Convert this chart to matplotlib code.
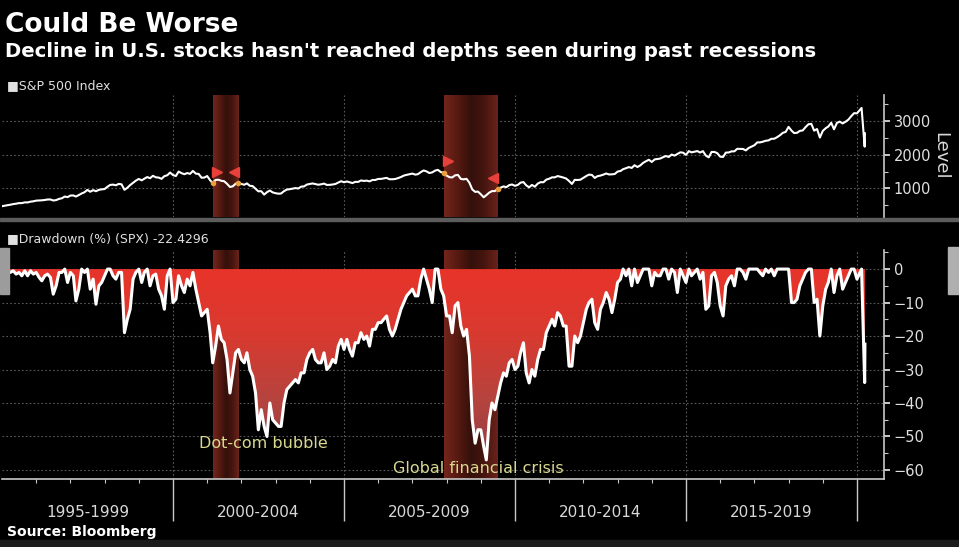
import numpy as np
import pandas as pd
import matplotlib
matplotlib.use('Agg')
import matplotlib.pyplot as plt
from matplotlib.colors import LinearSegmentedColormap
from matplotlib.patches import Polygon, Rectangle
from matplotlib.transforms import offset_copy, blended_transform_factory

# S&P 500 monthly level, Jan 1995 .. Jan 2020
spx_level = [
    470, 487, 500, 515, 533, 545, 562, 562, 584, 582, 605, 615,
    636, 640, 645, 654, 669, 670, 640, 651, 687, 705, 757, 740,
    786, 790, 757, 801, 848, 885, 954, 899, 947, 914, 955, 970,
    980, 1049, 1101, 1111, 1090, 1133, 1120, 957, 1017, 1098, 1163, 1229,
    1279, 1238, 1286, 1335, 1301, 1372, 1328, 1320, 1282, 1362, 1388, 1469,
    1394, 1366, 1498, 1452, 1420, 1454, 1430, 1517, 1436, 1429, 1315, 1320,
    1366, 1240, 1160, 1249, 1255, 1224, 1211, 1134, 1041, 1060, 1139, 1148,
    1130, 1107, 1147, 1076, 1067, 990, 912, 916, 815, 886, 936, 880,
    856, 841, 848, 917, 964, 975, 990, 1008, 996, 1051, 1058, 1112,
    1131, 1145, 1126, 1107, 1121, 1141, 1102, 1104, 1115, 1130, 1174, 1212,
    1181, 1204, 1181, 1157, 1192, 1191, 1234, 1220, 1229, 1207, 1249, 1248,
    1280, 1281, 1295, 1311, 1270, 1270, 1277, 1304, 1336, 1378, 1401, 1418,
    1438, 1407, 1421, 1482, 1531, 1503, 1455, 1474, 1527, 1549, 1481, 1468,
    1379, 1331, 1323, 1386, 1400, 1280, 1267, 1283, 1165, 969, 896, 903,
    826, 735, 798, 873, 919, 919, 987, 1021, 1057, 1036, 1096, 1115,
    1074, 1104, 1169, 1187, 1089, 1031, 1102, 1049, 1141, 1183, 1181, 1258,
    1286, 1327, 1326, 1364, 1345, 1321, 1292, 1219, 1131, 1253, 1247, 1258,
    1312, 1366, 1408, 1398, 1310, 1362, 1379, 1407, 1441, 1412, 1416, 1426,
    1498, 1515, 1569, 1598, 1631, 1606, 1686, 1633, 1682, 1757, 1806, 1848,
    1783, 1859, 1872, 1884, 1924, 1960, 1931, 2003, 1972, 2018, 2068, 2059,
    1995, 2105, 2068, 2086, 2107, 2063, 2104, 1972, 1920, 2079, 2080, 2044,
    1940, 1932, 2060, 2065, 2097, 2099, 2174, 2171, 2168, 2126, 2199, 2239,
    2279, 2364, 2363, 2384, 2412, 2423, 2470, 2472, 2519, 2575, 2648, 2674,
    2824, 2714, 2641, 2648, 2705, 2718, 2816, 2902, 2914, 2712, 2760, 2507,
    2704, 2784, 2834, 2946, 2752, 2942, 2980, 2926, 2977, 3038, 3141, 3231,
    3226,
]

# drawdown from running peak (%), same months, monthly lows
drawdown_pct = [
    -1, -0.5, -0.5, -1, -0.5, -1.5, -1, -2, -0.5, -2, -0.5, -1.5,
    -1, -2.5, -3.5, -2, -1.5, -2.5, -7.5, -5, -1, -1, 0, -4,
    -1, -2, -9.5, -6, 0, -1, 0, -6, -3, -10.5, -5, -4,
    -2, 0, 0, -2, -3, -1, -1, -19, -15, -12, -3, -1,
    0, -4, -1, 0, -5, -2, -1.5, -6, -8, -12, -2, 0,
    -10, -9, -2, -5, -7, -3, -5, -1, -6, -10, -14, -13,
    -12, -19, -28, -23, -17, -21, -22, -27, -37, -31, -25, -24,
    -27, -28, -25, -30, -32, -37, -48, -42, -47, -50, -40, -45,
    -46, -47, -47, -40, -36, -35, -34, -33, -34, -31, -31, -27,
    -25, -24, -27, -28, -28, -25, -30, -29, -27, -28, -23, -21,
    -24, -21, -24, -26, -22, -22, -19, -21, -20, -23, -18, -18,
    -16, -16, -15, -14, -18, -20, -18, -15, -12, -10, -8, -7,
    -6, -8, -8, -3, 0, -3, -6, -10, 0, 0, -6, -8,
    -14, -14, -19, -11, -10, -17, -20, -18, -26, -45, -52, -48,
    -48, -53, -57, -45, -40, -42, -38, -34, -31, -32, -28, -27,
    -30, -29, -25, -22, -31, -34, -30, -32, -27, -24, -24, -19,
    -17, -15, -17, -13, -14, -17, -17, -29, -29, -20, -22, -20,
    -16, -12, -10, -9, -16, -18, -12, -10, -7, -9, -13, -9,
    -4, -3, 0, -2, 0, -5, 0, -4, -2, 0, 0, 0,
    -5, -1, -2, -2, 0, 0, -3, 0, -1, -7, 0, -2,
    -4, 0, -2, -1, 0, -3, -1, -12, -11, -2, -1, -4,
    -11, -14, -5, -3, -2, -5, 0, 0, -1, -3, 0, 0,
    0, 0, -1, -2, 0, -1, 0, -2, 0, 0, 0, 0,
    0, -10, -10, -9, -5, -3, -1, 0, 0, -10, -9, -20,
    -11, -6, -4, 0, -7, -2, 0, -6, -4, -2, 0, 0,
    -3,
]

# last few trading days shown
tail_dates = ['2020-02-19', '2020-03-23', '2020-03-26']
tail_level = [3386, 2237, 2630]
tail_drawdown = [0.0, -33.9, -22.43]

recessions = [('2001-03-01', '2001-11-30'), ('2007-12-01', '2009-06-30')]
period_labels = ['1995-1999', '2000-2004', '2005-2009', '2010-2014', '2015-2019']


def dec_year(d):
    d = pd.DatetimeIndex(d)
    return (d.year + (d.dayofyear - 1) / 365.25).to_numpy()


dates = pd.date_range('1995-01-01', periods=len(spx_level), freq='MS')
dates = dates.append(pd.DatetimeIndex(tail_dates))
x = dec_year(dates)
spx = np.array(spx_level + tail_level, dtype=float)
dd = np.array(drawdown_pct + tail_drawdown, dtype=float)
rec_x = [tuple(dec_year([s, e])) for s, e in recessions]

W, H = 959, 547
fig = plt.figure(figsize=(W / 100, H / 100), dpi=100, facecolor='black')


def box(l, t, r, b):
    return [l / W, 1 - b / H, (r - l) / W, (b - t) / H]


ax1 = fig.add_axes(box(2, 95, 884, 217))
ax2 = fig.add_axes(box(2, 250, 884, 479))
xlim = (1995.0, 2020.79)
lim1 = (150, 3770)
lim2 = (-62.7, 5.7)
tick_c = '#c8c8c8'
grid_c = '#5a5a5a'

rec_cmap = LinearSegmentedColormap.from_list(
    'rec', ['#74251c', '#561a11', '#35100b', '#46150f', '#6a231a'])
grad_h = np.linspace(0, 1, 100).reshape(1, -1)

for ax, lim in ((ax1, lim1), (ax2, lim2)):
    ax.set_facecolor('black')
    for s in ['top', 'left', 'bottom']:
        ax.spines[s].set_visible(False)
    ax.spines['right'].set_color(tick_c)
    ax.spines['right'].set_linewidth(1.2)
    ax.yaxis.tick_right()
    ax.tick_params(axis='y', which='both', colors=tick_c, direction='out',
                   labelsize=10.5, labelcolor='#e0e0e0', pad=3)
    ax.tick_params(axis='y', which='major', length=4, width=1.4)
    ax.tick_params(axis='y', which='minor', length=3, width=0.8)
    for yr in [2000, 2005, 2010, 2015, 2020]:
        ax.axvline(yr, color=grid_c, lw=0.8, ls=(0, (1.5, 2)), zorder=0.2)
    for s, e in rec_x:
        ax.imshow(grad_h, cmap=rec_cmap, extent=[s, e, lim[0], lim[1]],
                  aspect='auto', zorder=0.5, interpolation='bilinear')

# top panel: index level
for v in [1000, 2000, 3000]:
    ax1.axhline(v, color=grid_c, lw=0.8, ls=(0, (1.5, 2)), zorder=0.2)
ax1.plot(x, spx, color='white', lw=1.5, zorder=3)
for s, e in rec_x:
    for xe, mk, dx in ((s, '>', 3), (e, '<', -3)):
        ye = np.interp(xe, x, spx)
        ax1.plot(xe, ye, 'o', color='#e8a040', ms=3, zorder=4)
        tr = offset_copy(ax1.transData, fig=fig, x=dx, y=8, units='points')
        ax1.plot(xe, ye, marker=mk, color='#e8403a', ms=7, transform=tr,
                 zorder=4, linestyle='none')
ax1.set_xlim(*xlim)
ax1.set_ylim(*lim1)
ax1.set_yticks([1000, 2000, 3000])
ax1.set_yticks([500, 1500, 2500, 3500], minor=True)
ax1.set_xticks([])
ax1.yaxis.set_label_position('right')
ax1.set_ylabel('Level', rotation=270, color='#d8d8d8', fontsize=13, labelpad=13)

# bottom panel: drawdown
for v in range(0, -61, -10):
    ax2.axhline(v, color=grid_c, lw=0.8, ls=(0, (1.5, 2)), zorder=0.2)
fill_cmap = LinearSegmentedColormap.from_list(
    'dd', ['#8e3a46', '#b4443f', '#d83a30', '#e8342a'])
grad_v = np.linspace(0, 1, 256).reshape(-1, 1)
im = ax2.imshow(grad_v, cmap=fill_cmap, origin='lower',
                extent=[x[0], x[-1], -60, 0], aspect='auto', zorder=2)
poly = Polygon(np.column_stack([np.r_[x, x[::-1]], np.r_[dd, np.zeros_like(dd)]]),
               closed=True, facecolor='none', edgecolor='none',
               transform=ax2.transData)
ax2.add_patch(poly)
im.set_clip_path(poly)
ax2.plot(x, dd, color='white', lw=2.2, zorder=3)

ax2.set_xlim(*xlim)
ax2.set_ylim(*lim2)
ax2.set_yticks(range(0, -61, -10))
ax2.set_yticks(range(5, -60, -10), minor=True)
ax2.spines['bottom'].set_visible(True)
ax2.spines['bottom'].set_color(tick_c)
ax2.spines['bottom'].set_linewidth(1.2)
ax2.set_xticks([2000, 2005, 2010, 2015, 2020])
ax2.set_xticks(range(1996, 2021), minor=True)
ax2.set_xticklabels([])
ax2.tick_params(axis='x', which='major', colors=tick_c, length=30, width=1)
ax2.tick_params(axis='x', which='minor', colors=tick_c, length=3, width=0.8)

ylab = '#d8d890'
ax2.text(2000.76, -53.4, 'Dot-com bubble', color=ylab, fontsize=11.5,
         va='baseline', zorder=5)
ax2.text(2006.43, -60.9, 'Global financial crisis', color=ylab, fontsize=11.5,
         va='baseline', zorder=5)

bt = blended_transform_factory(ax2.transData, fig.transFigure)
for lab in period_labels:
    ax2.text(int(lab[:4]) + 2.5, 1 - 517 / H, lab, transform=bt, ha='center',
             va='baseline', color='#d8d8d8', fontsize=11)

# titles and headers
fig.text(5 / W, 1 - 32 / H, 'Could Be Worse', color='white', fontsize=19,
         fontweight='bold', va='baseline')
fig.text(5 / W, 1 - 57 / H,
         "Decline in U.S. stocks hasn't reached depths seen during past recessions",
         color='white', fontsize=14.1, fontweight='bold', va='baseline')
fig.text(7 / W, 1 - 89 / H, '\u25a0S&P 500 Index', color='#e0e0e0', fontsize=9,
         va='baseline')
fig.text(7 / W, 1 - 242 / H, '\u25a0Drawdown (%) (SPX) -22.4296', color='#e0e0e0',
         fontsize=9, va='baseline')
fig.text(7 / W, 1 - 536 / H, 'Source: Bloomberg', color='white', fontsize=10,
         fontweight='bold', va='baseline')

# bloomberg frame bits
fig.add_artist(Rectangle((0, 1 - 221 / H), 1, 3 / H, transform=fig.transFigure,
                         color='#5c5c5c', zorder=-1))
fig.add_artist(Rectangle((0, 0), 1, 7 / H, transform=fig.transFigure,
                         color='#1c1c1c', zorder=-1))
fig.add_artist(Rectangle((0, 1 - 294 / H), 9 / W, 46 / H, transform=fig.transFigure,
                         color='#9c9c9c'))
fig.add_artist(Rectangle((948 / W, 1 - 294 / H), 11 / W, 47 / H,
                         transform=fig.transFigure, color='#b0b0b0'))

fig.savefig('out.png', dpi=100, facecolor='black')
